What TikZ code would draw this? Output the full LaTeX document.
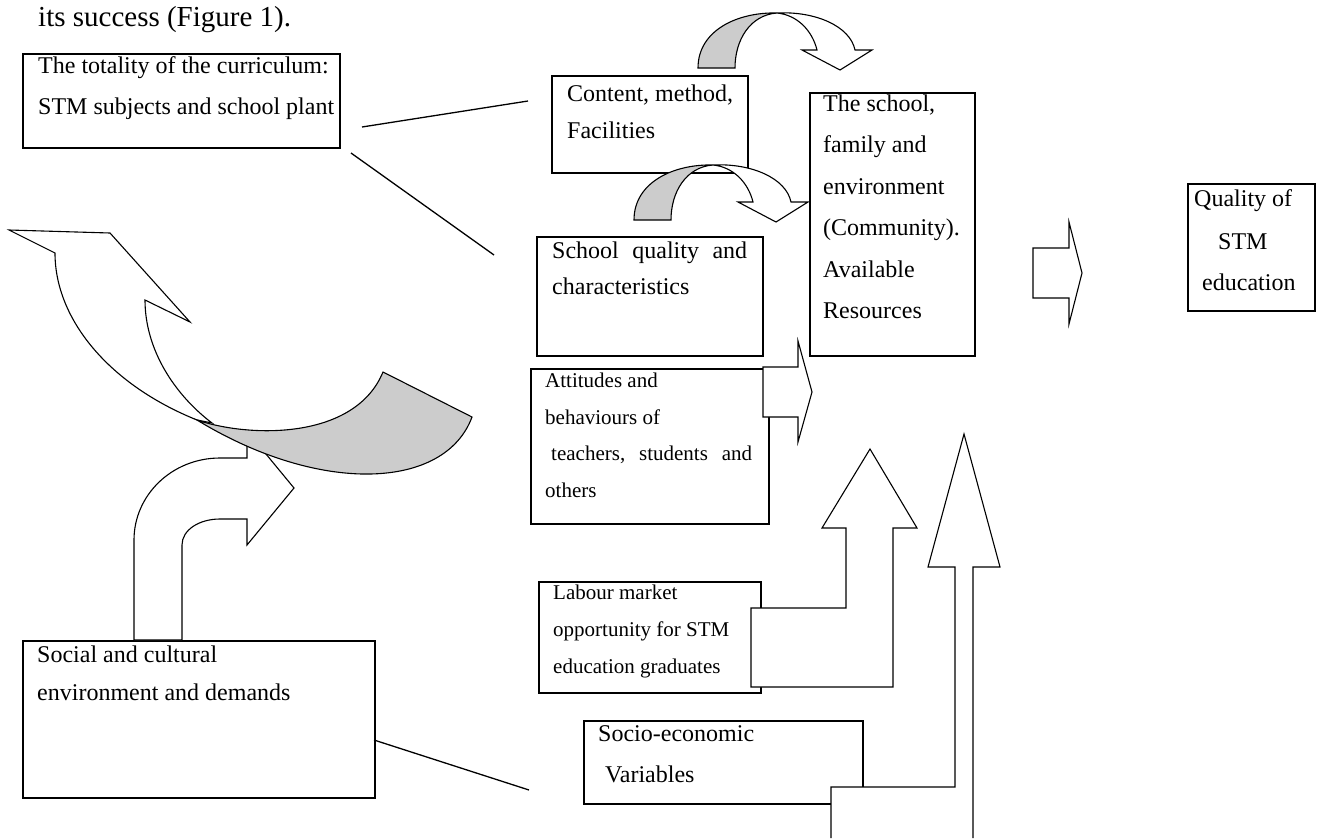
\documentclass[tikz,border=0pt]{standalone}
\usepackage{fontspec}
\setmainfont{Liberation Serif}
\definecolor{shade}{RGB}{204,204,204}
\tikzset{
  box/.style={draw, line width=1.6pt, inner sep=0pt, anchor=north west},
  arr/.style={draw, fill=white, line width=1.1pt, line join=miter},
  darr/.style={draw, fill=shade, line width=1.1pt, line join=miter},
  conn/.style={draw, line width=1.3pt},
  txt/.style={anchor=base west, inner sep=0pt, font=\fontsize{24}{28}\selectfont},
  stxt/.style={anchor=base west, inner sep=0pt, font=\fontsize{21}{25}\selectfont},
  htxt/.style={anchor=base west, inner sep=0pt, font=\fontsize{29}{34}\selectfont},
  curvedown/.pic={
    \path[darr] (0,0) .. controls (0,-38) and (40,-56) .. (79,-55)
      .. controls (52,-53) and (37,-28) .. (37,0) -- cycle;
    \path[arr] (79,-55) .. controls (117,-57) and (152,-42) .. (157,-18)
      -- (174,-18) -- (142,2) -- (104,-18) -- (119,-18)
      .. controls (114,-38) and (99,-53) .. (79,-55) -- cycle;
  }
}
\begin{document}
\begin{tikzpicture}[x=1pt,y=-1pt]
\useasboundingbox (0,0) rectangle (1319,838);

% heading fragment
\node[htxt] (head) at (38,26) {its success (Figure 1).};

% boxes
\node[box, minimum width=317pt, minimum height=94pt] (curr) at (22,53) {};
\node[box, minimum width=196pt, minimum height=97pt] (cont) at (551,75) {};
\node[box, minimum width=165pt, minimum height=263pt] (school) at (809,92) {};
\node[box, minimum width=127pt, minimum height=127pt] (qual) at (1187,183) {};
\node[box, minimum width=226pt, minimum height=119pt] (sq) at (536,236) {};
\node[box, minimum width=238pt, minimum height=155pt] (att) at (530,368) {};
\node[box, minimum width=222pt, minimum height=111pt] (lab) at (538,581) {};
\node[box, minimum width=279pt, minimum height=83pt] (socio) at (583,720) {};
\node[box, minimum width=352pt, minimum height=157pt] (soc) at (22,640) {};

% plain connector lines
\coordinate (c1a) at (362,127); \coordinate (c1b) at (528,101);
\coordinate (c2a) at (351,153); \coordinate (c2b) at (494,255);
\coordinate (c3a) at (374,740); \coordinate (c3b) at (529,790);
\draw[conn] (c1a) -- (c1b);
\draw[conn] (c2a) -- (c2b);
\draw[conn] (c3a) -- (c3b);

% curved down arrows
\pic at (698,68) {curvedown};
\pic at (634,220) {curvedown};

% big curved arrow: white ribbon
\path[arr] (55,253) -- (9,230) -- (110,233) -- (190,322) -- (145,300)
  .. controls (145,350) and (175,395) .. (212,423) -- (197,420)
  .. controls (110,385) and (55,320) .. (55,253) -- cycle;

% bent arrow from social box
\path[arr] (134,640) -- (134,540) .. controls (134,495) and (172,458) .. (220,458)
  -- (247,458) -- (247,431) -- (294,488) -- (247,545) -- (247,519) -- (220,519)
  .. controls (199,519) and (182,530) .. (182,545) -- (182,640) -- cycle;

% big curved arrow: shaded tail
\path[darr] (197,420) .. controls (250,438) and (355,440) .. (383,372)
  -- (472,417) .. controls (445,490) and (320,495) .. (197,420) -- cycle;

% block arrows
\path[arr] (1033,248) -- (1069,248) -- (1069,222) -- (1082,273) -- (1069,324)
  -- (1069,298) -- (1033,298) -- cycle;
\path[arr] (763,367) -- (798,367) -- (798,341) -- (812,392) -- (798,442)
  -- (798,417) -- (763,417) -- cycle;
\path[arr] (751,687) -- (751,608) -- (846,608) -- (846,528) -- (822,528)
  -- (870,449) -- (917,528) -- (893,528) -- (893,687) -- cycle;
\path[fill=white] (831,838) -- (831,787) -- (955,787) -- (955,567) -- (928,567)
  -- (964,434) -- (1000,567) -- (973,567) -- (973,838) -- cycle;
\draw[line width=1.1pt, line join=miter] (831,838) -- (831,787) -- (955,787) -- (955,567) -- (928,567)
  -- (964,434) -- (1000,567) -- (973,567) -- (973,838);

% texts
\node[txt] (l1a) at (38,73) {The totality of the curriculum:};
\node[txt] (l1b) at (38,114) {STM subjects and school plant};
\node[txt] (l2a) at (567,101) {Content, method,};
\node[txt] (l2b) at (567,138) {Facilities};
\node[txt] (l3a) at (823,111) {The school,};
\node[txt] (l3b) at (823,152.5) {family and};
\node[txt] (l3c) at (823,194) {environment};
\node[txt] (l3d) at (823,235.5) {(Community).};
\node[txt] (l3e) at (823,277) {Available};
\node[txt] (l3f) at (823,318.5) {Resources};
\node[txt] (l4a) at (1194,206) {Quality of};
\node[txt] (l4b) at (1218,249) {STM};
\node[txt] (l4c) at (1202,290) {education};
\node[txt] (l5a) at (552,258) {\hbox to 195pt{School\hfil quality\hfil and}};
\node[txt] (l5b) at (552,294) {characteristics};
\node[stxt] (l6a) at (545,387) {Attitudes and};
\node[stxt] (l6b) at (545,424) {behaviours of};
\node[stxt] (l6c) at (551,460) {\hbox to 201pt{teachers,\hfil students\hfil and}};
\node[stxt] (l6d) at (545,497) {others};
\node[stxt] (l7a) at (553,599) {Labour market};
\node[stxt] (l7b) at (553,636) {opportunity for STM};
\node[stxt] (l7c) at (553,673) {education graduates};
\node[txt] (l8a) at (598,741) {Socio-economic};
\node[txt] (l8b) at (605,782) {Variables};
\node[txt] (l9a) at (37,662) {Social and cultural};
\node[txt] (l9b) at (37,700) {environment and demands};
\end{tikzpicture}
\end{document}
